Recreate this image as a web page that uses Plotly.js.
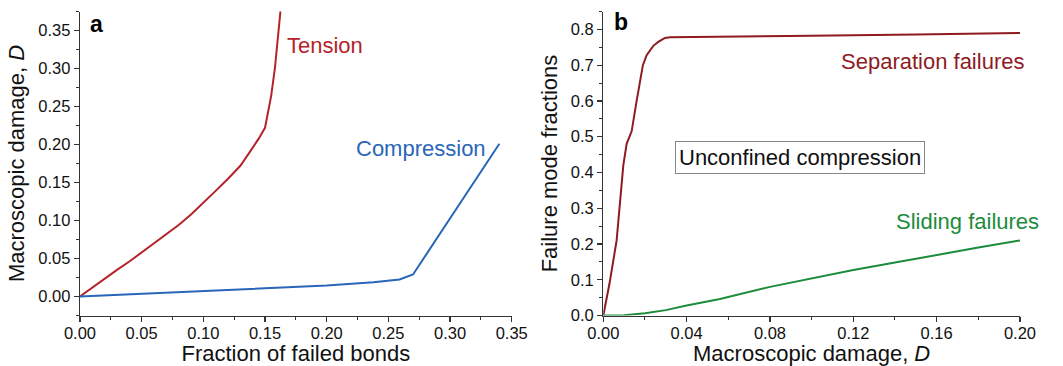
<!DOCTYPE html>
<html>
<head>
<meta charset="utf-8">
<script src="https://cdn.plot.ly/plotly-3.0.1.min.js"></script>
<style>html,body{margin:0;padding:0;background:#fff;}#chart{width:1063px;height:366px;}</style>
</head>
<body>
<div id="chart"></div>
<script>
// Panel a: macroscopic damage vs fraction of failed bonds
const tensionX = [0, 0.01, 0.02, 0.03, 0.04, 0.05, 0.06, 0.07, 0.08, 0.09, 0.10, 0.11, 0.12, 0.13, 0.138, 0.145, 0.150, 0.152, 0.155, 0.158, 0.160, 0.162, 0.164];
const tensionD = [0, 0.012, 0.024, 0.035, 0.046, 0.058, 0.069, 0.081, 0.094, 0.108, 0.123, 0.139, 0.155, 0.172, 0.191, 0.208, 0.222, 0.240, 0.264, 0.300, 0.335, 0.370, 0.400];
const compressionX = [0, 0.05, 0.10, 0.15, 0.20, 0.238, 0.259, 0.270, 0.340];
const compressionD = [0, 0.0035, 0.0066, 0.0101, 0.0145, 0.0189, 0.0224, 0.029, 0.201];

// Panel b: failure mode fractions vs macroscopic damage
const separationX = [0, 0.003, 0.0064, 0.008, 0.0096, 0.0112, 0.0136, 0.016, 0.0176, 0.019, 0.0208, 0.024, 0.0264, 0.0296, 0.032, 0.06, 0.10, 0.15, 0.20];
const separationY = [0, 0.09, 0.21, 0.31, 0.42, 0.48, 0.515, 0.60, 0.66, 0.70, 0.728, 0.754, 0.765, 0.776, 0.778, 0.779, 0.782, 0.786, 0.790];
const slidingX = [0, 0.01, 0.02, 0.03, 0.04, 0.056, 0.08, 0.10, 0.12, 0.14, 0.16, 0.18, 0.20];
const slidingY = [0, 0.001, 0.006, 0.015, 0.028, 0.046, 0.080, 0.104, 0.127, 0.148, 0.170, 0.190, 0.210];

const FONT = 'Arial, "Liberation Sans", sans-serif';
const AX = '#333';
const TICK = 16.5;
const BIG = 22;

const traces = [
  {x: tensionX, y: tensionD, xaxis: 'x', yaxis: 'y', mode: 'lines', line: {color: '#b5232a', width: 2}, name: 'Tension'},
  {x: compressionX, y: compressionD, xaxis: 'x', yaxis: 'y', mode: 'lines', line: {color: '#2866b8', width: 2}, name: 'Compression'},
  {x: separationX, y: separationY, xaxis: 'x2', yaxis: 'y2', mode: 'lines', line: {color: '#8e1b1f', width: 2}, name: 'Separation failures'},
  {x: slidingX, y: slidingY, xaxis: 'x2', yaxis: 'y2', mode: 'lines', line: {color: '#1c8c3c', width: 2}, name: 'Sliding failures'}
];

function axis(extra) {
  return Object.assign({
    showgrid: false, zeroline: false, showline: true, linecolor: AX, linewidth: 1.3,
    ticks: 'outside', ticklen: 5, tickwidth: 1.2, tickcolor: AX,
    tickfont: {size: TICK, color: '#111', family: FONT},
    automargin: false, fixedrange: true
  }, extra);
}

const yDom = [(366 - 315.5) / 366, (366 - 11.5) / 366];

const layout = {
  width: 1063, height: 366,
  margin: {l: 0, r: 0, t: 0, b: 0},
  paper_bgcolor: '#fff', plot_bgcolor: '#fff',
  showlegend: false,
  font: {family: FONT, color: '#111'},
  xaxis: axis({
    domain: [80 / 1063, 511.7 / 1063], anchor: 'y',
    range: [0, 0.35], dtick: 0.05, tick0: 0, tickformat: '.2f', ticklabelstandoff: -3,
    minor: {ticks: 'outside', dtick: 0.025, ticklen: 3, tickcolor: AX, tickwidth: 1},
    title: {text: 'Fraction of failed bonds', font: {size: BIG, family: FONT, color: '#111'}, standoff: 6}
  }),
  yaxis: axis({
    domain: yDom, anchor: 'x',
    range: [-0.025, 0.375], dtick: 0.05, tick0: 0, tickformat: '.2f',
    minor: {ticks: 'outside', dtick: 0.025, ticklen: 3, tickcolor: AX, tickwidth: 1},
    title: {text: 'Macroscopic damage, <i>D</i>', font: {size: BIG, family: FONT, color: '#111'}, standoff: 7}
  }),
  xaxis2: axis({
    domain: [603.3 / 1063, 1020 / 1063], anchor: 'y2',
    range: [0, 0.2], dtick: 0.04, tick0: 0, tickformat: '.2f', ticklabelstandoff: -3,
    minor: {ticks: 'outside', dtick: 0.02, ticklen: 3, tickcolor: AX, tickwidth: 1},
    title: {text: 'Macroscopic damage, <i>D</i>', font: {size: BIG, family: FONT, color: '#111'}, standoff: 6}
  }),
  yaxis2: axis({
    domain: yDom, anchor: 'x2',
    range: [0, 0.85], dtick: 0.1, tick0: 0, tickformat: '.1f',
    minor: {ticks: 'outside', dtick: 0.05, ticklen: 3, tickcolor: AX, tickwidth: 1},
    title: {text: 'Failure mode fractions', font: {size: BIG, family: FONT, color: '#111'}, standoff: 7}
  }),
  annotations: [
    {xref: 'x', yref: 'y', x: 0.0134, y: 0.359, text: '<b>a</b>', showarrow: false, font: {size: 23, family: FONT, color: '#000'}},
    {xref: 'x2', yref: 'y2', x: 0.0087, y: 0.821, text: '<b>b</b>', showarrow: false, font: {size: 23, family: FONT, color: '#000'}},
    {xref: 'x', yref: 'y', x: 0.199, y: 0.330, text: 'Tension', showarrow: false, font: {size: BIG, family: FONT, color: '#b5232a'}},
    {xref: 'x', yref: 'y', x: 0.2763, y: 0.195, text: 'Compression', showarrow: false, font: {size: BIG, family: FONT, color: '#2866b8'}},
    {xref: 'x2', yref: 'y2', x: 0.158, y: 0.710, text: 'Separation failures', showarrow: false, font: {size: BIG, family: FONT, color: '#8e1b1f'}},
    {xref: 'x2', yref: 'y2', x: 0.1748, y: 0.263, text: 'Sliding failures', showarrow: false, font: {size: BIG, family: FONT, color: '#1c8c3c'}},
    {xref: 'x2', yref: 'y2', x: 0.0944, y: 0.441, text: 'Unconfined compression', showarrow: false,
     font: {size: BIG, family: FONT, color: '#111'}, bordercolor: '#888', borderwidth: 1, borderpad: 3, bgcolor: '#fff'}
  ]
};

Plotly.newPlot('chart', traces, layout, {displayModeBar: false, staticPlot: true});
</script>
</body>
</html>
